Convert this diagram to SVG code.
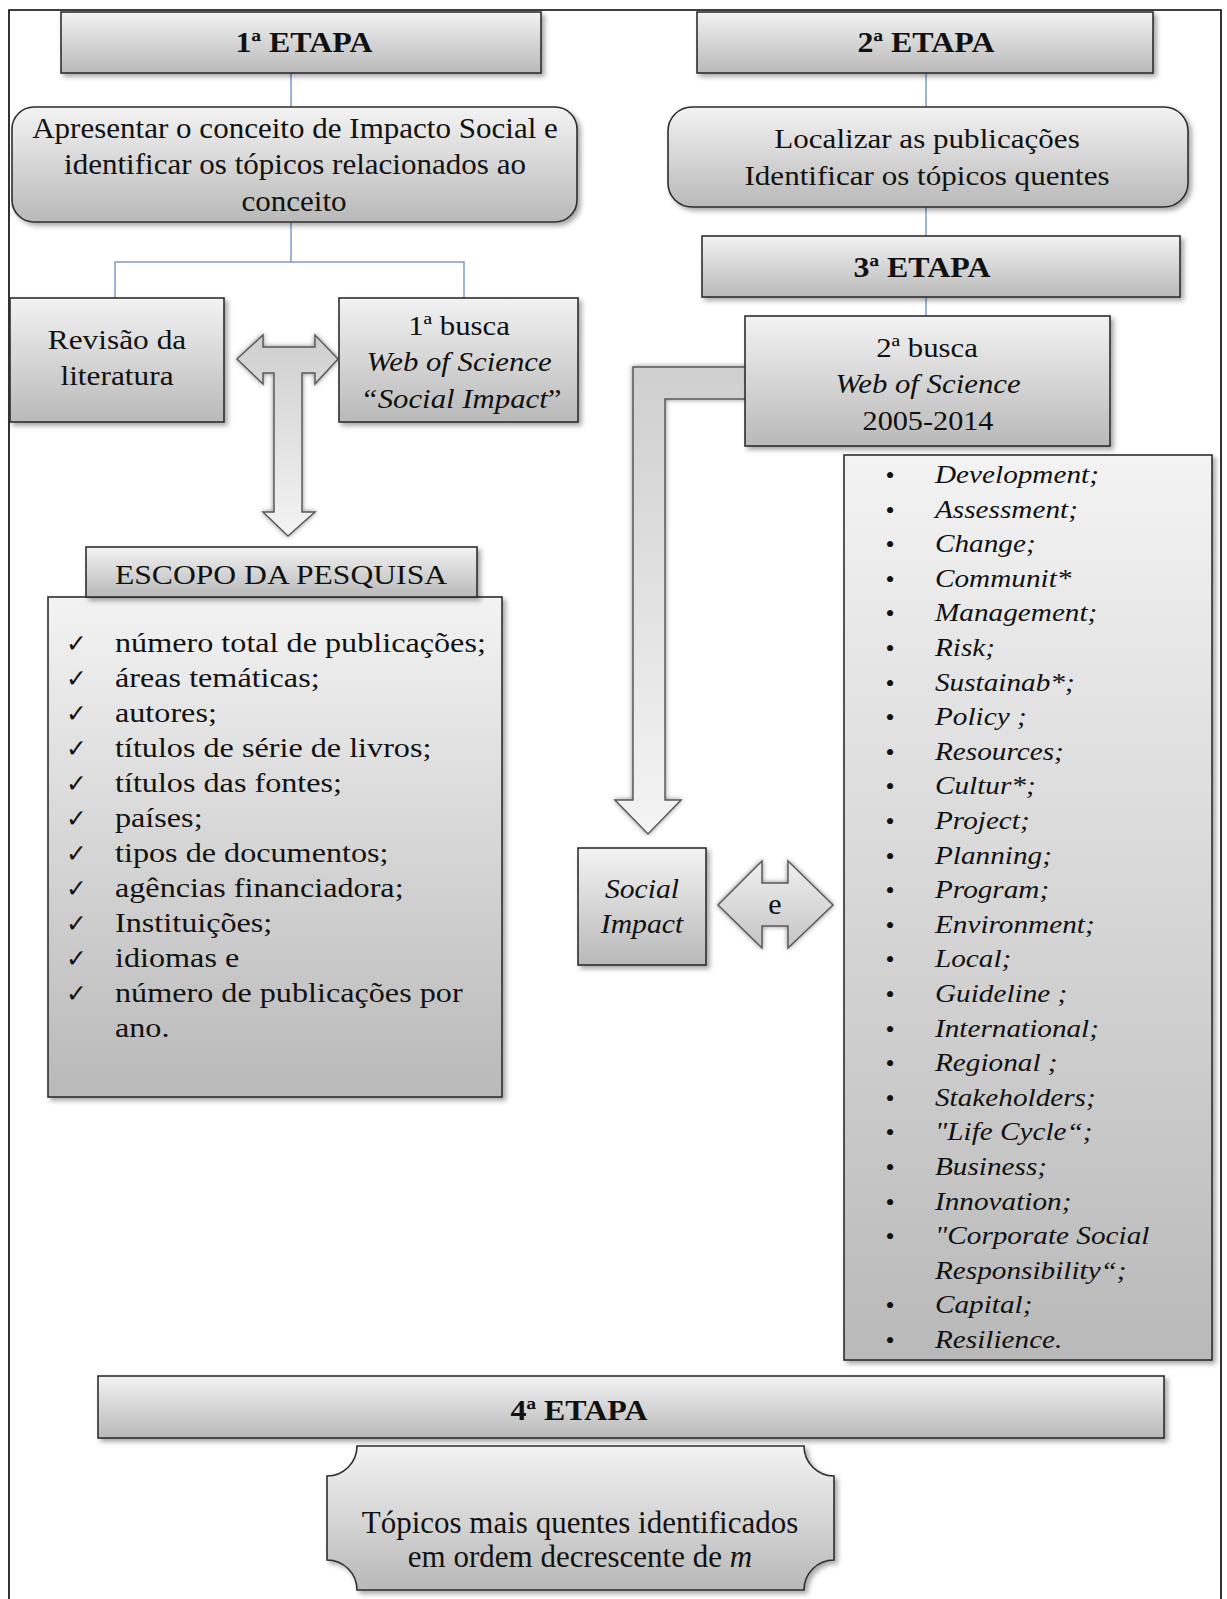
<svg xmlns="http://www.w3.org/2000/svg" width="1227" height="1599" viewBox="0 0 1227 1599">
<defs>
  <linearGradient id="g" x1="0" y1="0" x2="0" y2="1">
    <stop offset="0" stop-color="#f3f3f3"/>
    <stop offset="1" stop-color="#b9b9b9"/>
  </linearGradient>
  <linearGradient id="ga" x1="0" y1="0" x2="0" y2="1">
    <stop offset="0" stop-color="#cfcfcf"/>
    <stop offset="1" stop-color="#f4f4f4"/>
  </linearGradient>
  <linearGradient id="ge" x1="0" y1="0" x2="0" y2="1">
    <stop offset="0" stop-color="#f0f0f0"/>
    <stop offset="1" stop-color="#c4c4c4"/>
  </linearGradient>
  <filter id="sh" x="-10%" y="-10%" width="125%" height="130%">
    <feDropShadow dx="3" dy="3" stdDeviation="2.5" flood-color="#000" flood-opacity="0.35"/>
  </filter>
  <filter id="sha" x="-20%" y="-10%" width="140%" height="125%">
    <feDropShadow dx="0" dy="0" stdDeviation="2.5" flood-color="#000" flood-opacity="0.45"/>
  </filter>
</defs>
<style>
  .box{fill:url(#g);stroke:#2e2e2e;stroke-width:1.6;filter:url(#sh)}
  .arr{fill:url(#ga);stroke:#5a5a5a;stroke-width:1.5;filter:url(#sha)}
  .arre{fill:url(#ge);stroke:#5a5a5a;stroke-width:1.5;filter:url(#sha)}
  .con{stroke:#7d9cc6;stroke-width:1.5;fill:none}
  .t{font-family:"Liberation Serif","Times New Roman",serif;fill:#111}
  .c{text-anchor:middle}
  .h{font-size:29px;font-weight:bold}
  .b30{font-size:30px}
  .b28{font-size:28px}
  .b27{font-size:27px}
  .i{font-style:italic}
  .li{font-size:25px;font-style:italic}
  .bul{font-family:"Liberation Serif",serif;font-size:26px;fill:#111;text-anchor:middle}
  .chk{font-family:"DejaVu Sans",sans-serif;font-size:25px;font-weight:bold;fill:#111}
</style>
<rect width="1227" height="1599" fill="#ffffff"/>
<path d="M9,1599 L9,10 L1221,10 L1221,1599" fill="none" stroke="#000" stroke-width="1.6"/>

<g id="connectors">
  <line class="con" x1="291" y1="73" x2="291" y2="107"/>
  <polyline class="con" points="291,222 291,262"/>
  <polyline class="con" points="115,298 115,262 464,262 464,298"/>
  <line class="con" x1="926" y1="73" x2="926" y2="107"/>
  <line class="con" x1="926" y1="207" x2="926" y2="236"/>
  <line class="con" x1="926" y1="297" x2="926" y2="316"/>
  <path id="t-arrow" class="arr" d="M237,359 L263,335 L263,347 L315,347 L315,335 L338,359 L315,384 L315,373 L302,373 L302,512 L315,512 L288,536 L263,512 L274,512 L274,373 L263,373 L263,384 Z"/>
  <path id="l-arrow" class="arr" d="M750,367 L633,367 L633,800 L615,800 L648,834 L681,800 L665,800 L665,399 L750,399 Z"/>
  <path id="e-arrow" class="arre" d="M718,905 L762,861 L762,883 L788,883 L788,861 L833,905 L788,948 L788,926 L762,926 L762,948 Z"/>
  <text class="t c" x="775" y="914" font-size="30">e</text>
</g>

<g id="etapa1">
  <rect class="box" x="61" y="12" width="480" height="61"/>
  <text class="t c h" transform="translate(304,52) scale(1.1,1)">1ª ETAPA</text>
</g>

<g id="conceito">
  <rect class="box" x="12" y="107" width="565" height="115" rx="22" ry="22"/>
  <text class="t c b30" transform="translate(295,138) scale(1.035,1)">Apresentar  o conceito de Impacto Social e</text>
  <text class="t c b30" transform="translate(295,174) scale(1.035,1)">identificar  os tópicos relacionados ao</text>
  <text class="t c b30" transform="translate(294,211) scale(1.035,1)">conceito</text>
</g>

<g id="revisao">
  <rect class="box" x="10" y="298" width="214" height="124"/>
  <text class="t c b28" transform="translate(117,349) scale(1.12,1)">Revisão da</text>
  <text class="t c b28" transform="translate(117,385) scale(1.12,1)">literatura</text>
</g>

<g id="busca1">
  <rect class="box" x="339" y="298" width="239" height="124"/>
  <text class="t c b28" transform="translate(459,335) scale(1.1,1)">1ª busca</text>
  <text class="t c b28 i" transform="translate(459,371) scale(1.1,1)">Web of Science</text>
  <text class="t c b28" transform="translate(461,408) scale(1.1,1)"><tspan font-style="italic">“Social Impact</tspan>”</text>
</g>

<g id="escopo-lista">
  <rect class="box" x="48" y="597" width="454" height="500"/>
  <g class="chk">
    <text x="66" y="652">✓</text>
    <text x="66" y="687">✓</text>
    <text x="66" y="722">✓</text>
    <text x="66" y="757">✓</text>
    <text x="66" y="792">✓</text>
    <text x="66" y="827">✓</text>
    <text x="66" y="862">✓</text>
    <text x="66" y="897">✓</text>
    <text x="66" y="932">✓</text>
    <text x="66" y="967">✓</text>
    <text x="66" y="1002">✓</text>
  </g>
  <g transform="translate(115,0) scale(1.15,1)">
    <text class="t b28" x="0" y="652">número  total de publicações;</text>
    <text class="t b28" x="0" y="687">áreas  temáticas;</text>
    <text class="t b28" x="0" y="722">autores;</text>
    <text class="t b28" x="0" y="757">títulos de série de livros;</text>
    <text class="t b28" x="0" y="792">títulos das fontes;</text>
    <text class="t b28" x="0" y="827">países;</text>
    <text class="t b28" x="0" y="862">tipos de documentos;</text>
    <text class="t b28" x="0" y="897">agências  financiadora;</text>
    <text class="t b28" x="0" y="932">Instituições;</text>
    <text class="t b28" x="0" y="967">idiomas  e</text>
    <text class="t b28" x="0" y="1002">número  de publicações por</text>
    <text class="t b28" x="0" y="1037">ano.</text>
  </g>
</g>

<g id="escopo">
  <rect class="box" x="86" y="547" width="391" height="50"/>
  <text class="t c b28" transform="translate(281,584) scale(1.13,1)">ESCOPO DA PESQUISA</text>
</g>

<g id="etapa2">
  <rect class="box" x="697" y="12" width="456" height="61"/>
  <text class="t c h" transform="translate(926,52) scale(1.1,1)">2ª ETAPA</text>
</g>

<g id="localizar">
  <rect class="box" x="668" y="107" width="520" height="100" rx="24" ry="24"/>
  <text class="t c b28" transform="translate(927,148) scale(1.11,1)">Localizar  as publicações</text>
  <text class="t c b28" transform="translate(927,185) scale(1.11,1)">Identificar  os tópicos quentes</text>
</g>

<g id="etapa3">
  <rect class="box" x="702" y="236" width="478" height="61"/>
  <text class="t c h" transform="translate(922,277) scale(1.1,1)">3ª ETAPA</text>
</g>

<g id="busca2">
  <rect class="box" x="745" y="316" width="365" height="130"/>
  <text class="t c b28" transform="translate(927,357) scale(1.1,1)">2ª busca</text>
  <text class="t c b28 i" transform="translate(928,393) scale(1.1,1)">Web of Science</text>
  <text class="t c b28" transform="translate(928,430) scale(1.08,1)">2005-2014</text>
</g>

<g id="social-impact">
  <rect class="box" x="578" y="848" width="128" height="117"/>
  <text class="t c b27 i" transform="translate(642,898) scale(1.1,1)">Social</text>
  <text class="t c b27 i" transform="translate(642,933) scale(1.1,1)">Impact</text>
</g>

<g id="topicos">
  <rect class="box" x="844" y="455" width="368" height="905"/>
  <g>
    <text class="bul" x="890" y="484">•</text>
    <text class="bul" x="890" y="518.6">•</text>
    <text class="bul" x="890" y="553.2">•</text>
    <text class="bul" x="890" y="587.8">•</text>
    <text class="bul" x="890" y="622.4">•</text>
    <text class="bul" x="890" y="657">•</text>
    <text class="bul" x="890" y="691.6">•</text>
    <text class="bul" x="890" y="726.2">•</text>
    <text class="bul" x="890" y="760.8">•</text>
    <text class="bul" x="890" y="795.4">•</text>
    <text class="bul" x="890" y="830">•</text>
    <text class="bul" x="890" y="864.6">•</text>
    <text class="bul" x="890" y="899.2">•</text>
    <text class="bul" x="890" y="933.8">•</text>
    <text class="bul" x="890" y="968.4">•</text>
    <text class="bul" x="890" y="1003">•</text>
    <text class="bul" x="890" y="1037.6">•</text>
    <text class="bul" x="890" y="1072.2">•</text>
    <text class="bul" x="890" y="1106.8">•</text>
    <text class="bul" x="890" y="1141.4">•</text>
    <text class="bul" x="890" y="1176">•</text>
    <text class="bul" x="890" y="1210.6">•</text>
    <text class="bul" x="890" y="1245.2">•</text>
    <text class="bul" x="890" y="1314.4">•</text>
    <text class="bul" x="890" y="1349">•</text>
  </g>
  <g transform="translate(935,0) scale(1.17,1)">
    <text class="t li" x="0" y="483">Development;</text>
    <text class="t li" x="0" y="517.6">Assessment;</text>
    <text class="t li" x="0" y="552.2">Change;</text>
    <text class="t li" x="0" y="586.8">Communit*</text>
    <text class="t li" x="0" y="621.4">Management;</text>
    <text class="t li" x="0" y="656">Risk;</text>
    <text class="t li" x="0" y="690.6">Sustainab*;</text>
    <text class="t li" x="0" y="725.2">Policy ;</text>
    <text class="t li" x="0" y="759.8">Resources;</text>
    <text class="t li" x="0" y="794.4">Cultur*;</text>
    <text class="t li" x="0" y="829">Project;</text>
    <text class="t li" x="0" y="863.6">Planning;</text>
    <text class="t li" x="0" y="898.2">Program;</text>
    <text class="t li" x="0" y="932.8">Environment;</text>
    <text class="t li" x="0" y="967.4">Local;</text>
    <text class="t li" x="0" y="1002">Guideline ;</text>
    <text class="t li" x="0" y="1036.6">International;</text>
    <text class="t li" x="0" y="1071.2">Regional ;</text>
    <text class="t li" x="0" y="1105.8">Stakeholders;</text>
    <text class="t li" x="0" y="1140.4">"Life Cycle“;</text>
    <text class="t li" x="0" y="1175">Business;</text>
    <text class="t li" x="0" y="1209.6">Innovation;</text>
    <text class="t li" x="0" y="1244.2">"Corporate Social</text>
    <text class="t li" x="0" y="1278.8">Responsibility“;</text>
    <text class="t li" x="0" y="1313.4">Capital;</text>
    <text class="t li" x="0" y="1348">Resilience.</text>
  </g>
</g>

<g id="etapa4">
  <rect class="box" x="98" y="1376" width="1066" height="62"/>
  <text class="t c h" transform="translate(579,1420) scale(1.1,1)">4ª ETAPA</text>
</g>

<g id="resultado">
  <path class="box" d="M357,1446 L804,1446 A30,30 0 0 0 834,1476 L834,1560 A30,30 0 0 0 804,1590 L357,1590 A30,30 0 0 0 327,1560 L327,1476 A30,30 0 0 0 357,1446 Z"/>
  <text class="t c" font-size="31" x="580" y="1533">Tópicos mais quentes  identificados</text>
  <text class="t c" font-size="31" x="580" y="1567">em ordem decrescente de <tspan font-style="italic">m</tspan></text>
</g>
</svg>
